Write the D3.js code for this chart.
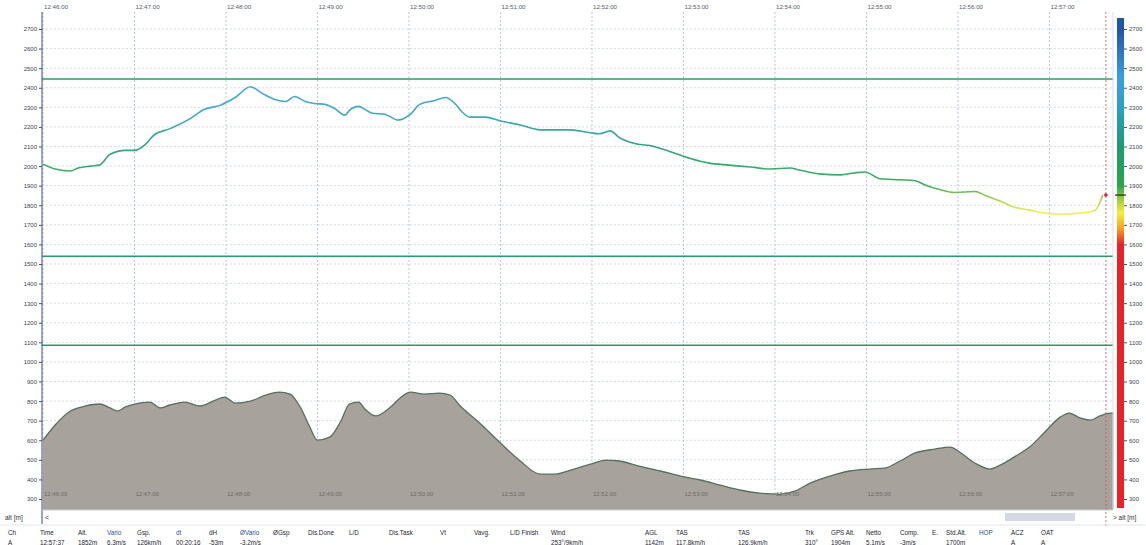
<!DOCTYPE html>
<html>
<head>
<meta charset="utf-8">
<script src="https://cdn.jsdelivr.net/npm/d3@7"></script>
<style>
    body { margin: 0; background: #fff; }
    svg text { font-family: "Liberation Sans", Arial, sans-serif; }
</style>
</head>
<body>
<svg id="chart" width="1146" height="545"></svg>
<script>

/* flight trace: seconds after 12:46:00 and altitude [m] */
const traceSec = [0, 8, 18, 23, 31, 37, 44, 54, 60, 67, 73, 83, 96, 106, 116, 126, 136, 144, 152, 159,
    165, 172, 178, 185, 191, 198, 201, 207, 211, 216, 224, 233, 241, 247, 257, 264, 270, 275, 280, 290,
    300, 313, 326, 346, 359, 365, 372, 378, 388, 398, 411, 424, 437, 450, 464, 477, 490, 496, 509, 523,
    532, 539, 549, 562, 572, 578, 588, 598, 611, 618, 628, 637, 647, 657, 667, 680, 690, 695];
const traceAlt = [2010, 1985, 1975, 1990, 2000, 2005, 2060, 2080, 2080, 2110, 2160, 2190, 2240, 2290, 2310, 2350, 2405, 2370, 2340, 2330,
    2355, 2330, 2320, 2315, 2295, 2260, 2285, 2305, 2290, 2270, 2265, 2235, 2265, 2315, 2335, 2350, 2320, 2275, 2250, 2250,
    2230, 2210, 2185, 2185, 2170, 2165, 2180, 2145, 2115, 2105, 2075, 2040, 2015, 2005, 1995, 1985, 1990, 1980, 1960, 1955,
    1965, 1970, 1935, 1930, 1925, 1905, 1880, 1865, 1870, 1850, 1820, 1790, 1775, 1760, 1755, 1760, 1775, 1852];

/* terrain profile below the trace */
const terrainSec = [0, 8, 18, 28, 37, 44, 49, 54, 60, 70, 77, 83, 93, 103, 113, 119, 126, 136, 146, 155,
    162, 169, 175, 180, 188, 195, 201, 207, 211, 218, 228, 234, 241, 250, 260, 267, 273, 287, 300, 313,
    326, 336, 346, 359, 369, 378, 391, 405, 418, 431, 444, 457, 470, 483, 493, 503, 516, 529, 542, 552,
    562, 572, 585, 595, 601, 611, 621, 628, 637, 647, 657, 667, 673, 680, 687, 693, 700, 702];
const terrainAlt = [600, 678, 749, 775, 785, 765, 749, 770, 785, 795, 765, 780, 795, 775, 805, 820, 790, 800, 830, 846,
    836, 765, 667, 601, 616, 693, 785, 795, 760, 724, 770, 815, 846, 836, 841, 831, 780, 683, 586, 494,
    427, 427, 448, 478, 499, 494, 468, 443, 417, 397, 371, 346, 330, 325, 340, 381, 417, 443, 453, 458,
    494, 535, 555, 565, 540, 484, 453, 474, 515, 565, 642, 718, 739, 714, 703, 724, 739, 739];

/* airspace limits [m] */
const airspaceAlt = [2445, 1540, 1085];

/* axis ticks */
const altTicks = d3.range(300, 2701, 100);
const timeTicks = d3.range(0, 701, 60);
const startClock = 12 * 3600 + 46 * 60;
const cursorSec = 697;

/* altitude colour scale stops */
const colourAlt = [300, 1600, 1680, 1760, 1830, 1900, 2100, 2300, 2450, 2700];
const colourHex = ["#ec2027", "#ec2027", "#f6a023", "#f4ee3a", "#9fcd3f", "#2ba54a", "#1d9a72", "#2b9fc6", "#3a9fe0", "#1f57a6"];

/* info table */
const tableHeaders = ["Ch", "Time", "Alt.", "Vario", "Gsp.", "dt", "dH", "ØVario", "ØGsp", "Dis.Done", "L/D", "Dis.Task",
    "Vt", "Vavg.", "L/D Finish", "Wind", "AGL", "TAS", "TAS", "Trk", "GPS Alt.", "Netto", "Comp.", "E.", "Std.Alt.",
    "HOP", "ACZ", "OAT"];
const tableValues = ["A", "12:57:37", "1852m", "6.3m/s", "126km/h", "00:20:16", "-53m", "-3.2m/s", "", "", "", "",
    "", "", "", "253°/9km/h", "1142m", "117.8km/h", "126.9km/h", "310°", "1904m", "5.1m/s", "-3m/s", "", "1700m",
    "", "A", "A"];
const blueHeaders = ["Vario", "dt", "ØVario", "HOP"];

function drawFlightChart(svgNode) {

    const svg = d3.select(svgNode);

    /* layout */
    const left = 42, right = 1113, top = 8, bottom = 510;
    const tableX = [8, 40, 78, 107, 137, 176, 209, 240, 273, 308, 349, 389, 440, 474, 510, 551, 645, 676, 738,
        805, 831, 866, 900, 932, 946, 979, 1011, 1041];

    const x = d3.scaleLinear().domain([0, 702]).range([43, 1113.5]);
    const y = d3.scaleLinear().domain([300, 2700]).range([499, 29]);

    function fmtClock(s) {
        const t = startClock + s;
        const pad = v => String(v).padStart(2, "0");
        return pad(Math.floor(t / 3600)) + ":" + pad(Math.floor(t / 60) % 60) + ":" + pad(t % 60);
    }

    /* vertical gradient keyed to altitude, shared by trace and colour bar */
    const defs = svg.append("defs");
    const grad = defs.append("linearGradient")
        .attr("id", "altGrad")
        .attr("gradientUnits", "userSpaceOnUse")
        .attr("x1", 0).attr("x2", 0)
        .attr("y1", y(300)).attr("y2", y(2700));
    grad.selectAll("stop")
        .data(colourAlt)
        .join("stop")
        .attr("offset", d => (d - 300) / 2400)
        .attr("stop-color", (d, i) => colourHex[i]);

    /* gridlines */
    svg.append("g")
        .selectAll("line")
        .data(altTicks)
        .join("line")
        .attr("x1", left).attr("x2", right)
        .attr("y1", d => y(d)).attr("y2", d => y(d))
        .attr("stroke", "#d6dbe5")
        .attr("stroke-dasharray", "2,2");

    svg.append("g")
        .selectAll("line")
        .data(timeTicks)
        .join("line")
        .attr("x1", d => x(d)).attr("x2", d => x(d))
        .attr("y1", top + 4).attr("y2", bottom)
        .attr("stroke", "#b6c6e2")
        .attr("stroke-dasharray", "2,2");

    /* terrain */
    const terrain = terrainSec.map((s, i) => ({ s: s, a: terrainAlt[i] }));
    svg.append("path")
        .datum(terrain)
        .attr("fill", "#a8a29d")
        .attr("d", d3.area()
            .x(d => x(d.s))
            .y0(bottom)
            .y1(d => y(d.a))
            .curve(d3.curveMonotoneX));
    svg.append("path")
        .datum(terrain)
        .attr("fill", "none")
        .attr("stroke", "#56705e")
        .attr("stroke-width", 1.3)
        .attr("d", d3.line()
            .x(d => x(d.s))
            .y(d => y(d.a))
            .curve(d3.curveMonotoneX));

    /* time labels inside the terrain */
    svg.append("g")
        .selectAll("text")
        .data(timeTicks)
        .join("text")
        .attr("x", d => x(d) + 1)
        .attr("y", 496)
        .attr("font-size", 6)
        .attr("fill", "#6e6a66")
        .text(fmtClock);

    /* airspace limits */
    svg.append("g")
        .selectAll("line")
        .data(airspaceAlt)
        .join("line")
        .attr("x1", left).attr("x2", right)
        .attr("y1", d => y(d)).attr("y2", d => y(d))
        .attr("stroke", "#2b9a6c")
        .attr("stroke-width", 1.5);

    /* flight trace */
    const trace = traceSec.map((s, i) => ({ s: s, a: traceAlt[i] }));
    svg.append("path")
        .datum(trace)
        .attr("fill", "none")
        .attr("stroke", "url(#altGrad)")
        .attr("stroke-width", 1.6)
        .attr("stroke-opacity", 0.9)
        .attr("d", d3.line()
            .x(d => x(d.s))
            .y(d => y(d.a))
            .curve(d3.curveMonotoneX));

    /* cursor */
    svg.append("line")
        .attr("x1", x(cursorSec)).attr("x2", x(cursorSec))
        .attr("y1", top + 4).attr("y2", 526)
        .attr("stroke", "#e2474e")
        .attr("stroke-width", 0.8)
        .attr("stroke-dasharray", "2,2");
    svg.append("circle")
        .attr("cx", x(cursorSec))
        .attr("cy", y(traceAlt[traceAlt.length - 1]))
        .attr("r", 1.8)
        .attr("fill", "#e0202a");

    /* top time labels */
    svg.append("g")
        .selectAll("text")
        .data(timeTicks)
        .join("text")
        .attr("x", d => x(d) + 1)
        .attr("y", 9)
        .attr("font-size", 6.2)
        .attr("fill", "#55606e")
        .text(fmtClock);

    /* left axis */
    svg.append("g")
        .attr("transform", `translate(${left},0)`)
        .call(d3.axisLeft(y).tickValues(altTicks).tickFormat(d3.format("d")).tickSize(3).tickPadding(2))
        .call(g => g.select(".domain").remove())
        .call(g => g.selectAll(".tick line").attr("stroke", "#44507a"))
        .call(g => g.selectAll(".tick text")
            .attr("font-size", 6)
            .attr("fill", "#3d4450")
            .attr("font-family", "Liberation Sans, Arial, sans-serif"));
    svg.append("line")
        .attr("x1", left).attr("x2", left)
        .attr("y1", top + 4).attr("y2", 524)
        .attr("stroke", "#3f4f7a")
        .attr("stroke-width", 1);
    svg.append("line")
        .attr("x1", right).attr("x2", right)
        .attr("y1", top + 4).attr("y2", bottom)
        .attr("stroke", "#d9dde6");
    svg.append("line")
        .attr("x1", left).attr("x2", right)
        .attr("y1", bottom).attr("y2", bottom)
        .attr("stroke", "#c9ced8");

    /* colour bar */
    svg.append("rect")
        .attr("x", 1117).attr("y", 18)
        .attr("width", 7).attr("height", 490)
        .attr("fill", "url(#altGrad)");
    svg.append("line")
        .attr("x1", 1115).attr("x2", 1126)
        .attr("y1", y(traceAlt[traceAlt.length - 1])).attr("y2", y(traceAlt[traceAlt.length - 1]))
        .attr("stroke", "#1c2a1c")
        .attr("stroke-width", 1.2);
    svg.append("g")
        .attr("transform", "translate(1124,0)")
        .call(d3.axisRight(y).tickValues(altTicks).tickFormat(d3.format("d")).tickSize(3).tickPadding(2))
        .call(g => g.select(".domain").remove())
        .call(g => g.selectAll(".tick line").attr("stroke", "#44507a"))
        .call(g => g.selectAll(".tick text")
            .attr("font-size", 6)
            .attr("fill", "#3d4450")
            .attr("font-family", "Liberation Sans, Arial, sans-serif"));

    /* scroll row */
    svg.append("text").attr("x", 5).attr("y", 520).attr("font-size", 6.5).attr("fill", "#333").text("alt [m]");
    svg.append("text").attr("x", 45).attr("y", 520).attr("font-size", 7).attr("fill", "#333").text("<");
    svg.append("rect")
        .attr("x", 1005).attr("y", 513)
        .attr("width", 70).attr("height", 8)
        .attr("fill", "#d4d8e2");
    svg.append("text").attr("x", 1113).attr("y", 520).attr("font-size", 6.5).attr("fill", "#333").text(">  alt [m]");
    svg.append("line")
        .attr("x1", 0).attr("x2", 1146)
        .attr("y1", 525).attr("y2", 525)
        .attr("stroke", "#e3e5ea");

    /* info table */
    const table = svg.append("g");
    table.selectAll("text.hdr")
        .data(tableHeaders)
        .join("text")
        .attr("class", "hdr")
        .attr("x", (d, i) => tableX[i])
        .attr("y", 535)
        .attr("font-size", 6.3)
        .attr("fill", d => blueHeaders.includes(d) ? "#2a4f9e" : "#1e2530")
        .text(d => d);
    table.selectAll("text.val")
        .data(tableValues)
        .join("text")
        .attr("class", "val")
        .attr("x", (d, i) => tableX[i])
        .attr("y", 545)
        .attr("font-size", 6.3)
        .attr("fill", "#1e2530")
        .text(d => d);
}

drawFlightChart(document.getElementById("chart"));
</script>
</body>
</html>
